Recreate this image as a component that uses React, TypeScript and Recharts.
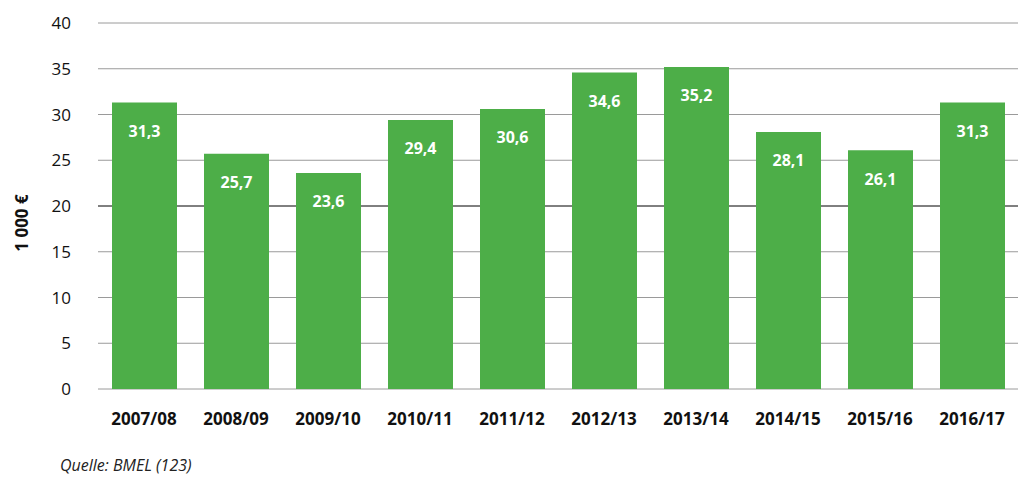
import React from 'react';
import { BarChart, Bar, XAxis, YAxis, CartesianGrid, LabelList, ReferenceLine } from 'recharts';

const categories = ['2007/08', '2008/09', '2009/10', '2010/11', '2011/12', '2012/13', '2013/14', '2014/15', '2015/16', '2016/17'];
const values = [31.3, 25.7, 23.6, 29.4, 30.6, 34.6, 35.2, 28.1, 26.1, 31.3];
const yTicks = [0, 5, 10, 15, 20, 25, 30, 35, 40];
const darkGridValue = 20;
const yAxisTitle = '1 000 €';
const sourceText = 'Quelle: BMEL (123)';

const data = categories.map((c, i) => ({ name: c, value: values[i] }));

const FONT = '"Open Sans", "Noto Sans", sans-serif';
const GREEN = '#4DAE48';

const fmt = (v: any) => String(v).replace('.', ',');

const YTitle = (props: any) => {
  const vb = props.viewBox || { x: 0, y: 0, width: 0, height: 0 };
  const cx = vb.x + 21;
  const cy = vb.y + vb.height / 2 + 17;
  return (
    <text
      x={cx}
      y={cy}
      transform={`rotate(-90, ${cx}, ${cy})`}
      textAnchor="middle"
      dominantBaseline="central"
      fontFamily={FONT}
      fontWeight={700}
      fontSize={17}
      fill="#111"
    >
      {yAxisTitle}
    </text>
  );
};

export default function App() {
  const refProps: any = { zIndex: -50 };
  return (
    <div style={{ position: 'absolute', left: 0, top: 0, width: 1024, height: 481, background: '#fff' }}>
      <BarChart
        width={1024}
        height={440}
        data={data}
        margin={{ top: 23, right: 6, bottom: 0, left: 0 }}
        barSize={65}
      >
        <CartesianGrid vertical={false} stroke="#9a9a9a" strokeWidth={1} />
        <ReferenceLine y={darkGridValue} stroke="#333" strokeWidth={1} {...refProps} />
        <XAxis
          dataKey="name"
          axisLine={false}
          tickLine={false}
          tickSize={0}
          tickMargin={24}
          height={51}
          interval={0}
          tick={{ fontFamily: FONT, fontWeight: 700, fontSize: 17, fill: '#111' }}
        />
        <YAxis
          domain={[0, 40]}
          ticks={yTicks}
          axisLine={false}
          tickLine={false}
          tickSize={0}
          tickMargin={27}
          width={98}
          interval={0}
          tick={{ fontFamily: FONT, fontSize: 17, fill: '#111' }}
          label={<YTitle />}
        />
        <Bar dataKey="value" fill={GREEN} isAnimationActive={false}>
          <LabelList
            dataKey="value"
            position="insideTop"
            offset={23}
            formatter={fmt}
            fill="#fff"
            fontFamily={FONT}
            fontWeight={700}
            fontSize={16}
          />
        </Bar>
      </BarChart>
      <div
        style={{
          position: 'absolute',
          left: 60,
          top: 454,
          fontFamily: FONT,
          fontStyle: 'italic',
          fontSize: 16,
          color: '#222',
        }}
      >
        {sourceText}
      </div>
    </div>
  );
}
